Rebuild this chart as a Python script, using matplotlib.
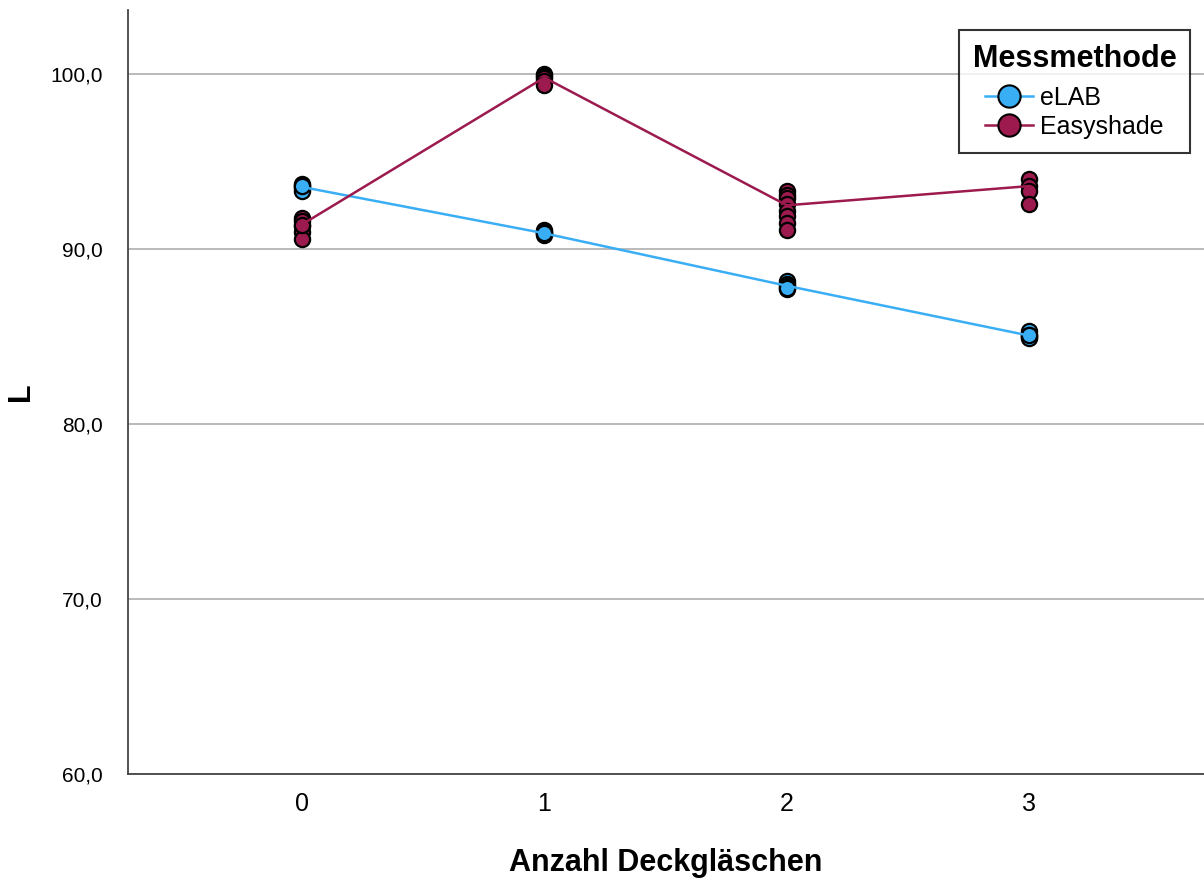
import matplotlib
matplotlib.use('Agg')
import matplotlib.pyplot as plt
from matplotlib.ticker import FuncFormatter

plt.rcParams['font.family'] = ['Liberation Sans', 'DejaVu Sans']

# ── Data ──────────────────────────────────────────────────────
deckglaeser = [0, 1, 2, 3]

elab_points = [
    [93.7, 93.6, 93.5, 93.3, 93.6],
    [91.1, 91.0, 90.9, 90.8, 90.9],
    [88.2, 88.0, 87.9, 87.7, 87.8],
    [85.3, 85.1, 85.0, 84.9, 85.1],
]
easy_points = [
    [91.8, 91.6, 91.3, 91.0, 90.6, 91.4],
    [100.0, 99.9, 99.8, 99.6, 99.4],
    [93.3, 93.1, 92.9, 92.6, 92.2, 91.9, 91.5, 91.1],
    [94.0, 93.6, 93.3, 92.6],
]
elab_mean = [93.55, 90.9, 87.9, 85.05]
easy_mean = [91.4, 99.8, 92.5, 93.6]

C_ELAB = '#3aaef5'
C_EASY = '#9c1a4e'

# ── Plot ──────────────────────────────────────────────────────
fig = plt.figure(figsize=(12.04, 8.81), dpi=100)
ax = fig.add_axes([0.1063, 0.1215, 0.8937, 0.8671])

for x, pts in zip(deckglaeser, elab_points):
    ax.scatter([x] * len(pts), pts, s=120, color=C_ELAB, edgecolor='black',
               linewidth=1.6, zorder=3)
for x, pts in zip(deckglaeser, easy_points):
    ax.scatter([x] * len(pts), pts, s=120, color=C_EASY, edgecolor='black',
               linewidth=1.6, zorder=3)

ax.plot(deckglaeser, elab_mean, '-', color=C_ELAB, linewidth=1.8, zorder=4)
ax.plot(deckglaeser, easy_mean, '-', color=C_EASY, linewidth=1.8, zorder=4)

# legend handles
h1, = ax.plot([], [], 'o-', color=C_ELAB, markeredgecolor='black',
              markersize=16, markeredgewidth=1.5, linewidth=1.8, label='eLAB')
h2, = ax.plot([], [], 'o-', color=C_EASY, markeredgecolor='black',
              markersize=16, markeredgewidth=1.5, linewidth=1.8, label='Easyshade')
leg = ax.legend(handles=[h1, h2], title='Messmethode', loc='upper right',
                bbox_to_anchor=(0.987, 0.974), borderaxespad=0,
                fontsize=18, title_fontsize=22,
                frameon=True, fancybox=False, edgecolor='black',
                handlelength=1.9, handletextpad=0.3, labelspacing=0.2,
                handleheight=0.75, borderpad=0.55)
leg.get_title().set_fontweight('bold')
leg.get_frame().set_linewidth(1.5)
leg._legend_box.sep = 9

ax.set_xlim(-0.717, 3.72)
ax.set_ylim(60, 103.66)
ax.set_xticks(deckglaeser)
ax.set_yticks([60, 70, 80, 90, 100])
ax.yaxis.set_major_formatter(FuncFormatter(lambda v, p: f'{v:.1f}'.replace('.', ',')))
ax.tick_params(axis='x', length=0, labelsize=18, pad=13)
ax.tick_params(axis='y', length=0, labelsize=15, pad=18)

ax.grid(axis='y', color='#b4b4b4', linewidth=1.3)
ax.set_axisbelow(True)
for side in ('top', 'right'):
    ax.spines[side].set_visible(False)
for side in ('left', 'bottom'):
    ax.spines[side].set_color('#444444')
    ax.spines[side].set_linewidth(1.3)

ax.set_xlabel('Anzahl Deckgläschen', fontsize=22, fontweight='bold', labelpad=23)
ax.set_ylabel('L', fontsize=22, fontweight='bold')
ax.yaxis.set_label_coords(-0.0855, 0.5)

fig.savefig('out.png', dpi=100)
